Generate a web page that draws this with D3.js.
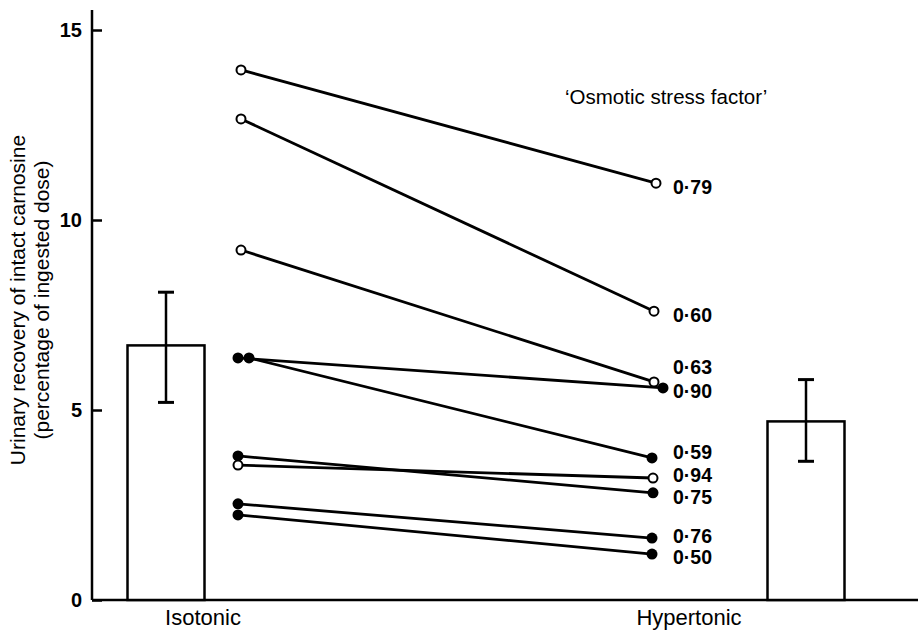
<!DOCTYPE html>
<html>
<head>
<meta charset="utf-8">
<script src="https://cdn.jsdelivr.net/npm/d3@7"></script>
<style>
  body { margin: 0; background: #fff; }
  text { font-family: "Liberation Sans", Arial, Helvetica, sans-serif; fill: #000; }
</style>
</head>
<body>
<svg width="918" height="630"></svg>
<script>
// data
var groups = ["Isotonic", "Hypertonic"];
var groupMeans = [6.7, 4.7];
var groupErrLow = [5.2, 3.65];
var groupErrHigh = [8.1, 5.8];

// individual subjects: isotonic -> hypertonic
var isoValues = [13.95, 12.66, 9.21, 6.37, 6.37, 3.79, 3.55, 2.53, 2.24];
var hyperValues = [10.97, 7.6, 5.74, 5.58, 3.74, 2.82, 3.21, 1.63, 1.21];
var openMarker = [true, true, true, false, false, false, true, false, false];
var stressFactor = ["0·79", "0·60", "0·63", "0·90", "0·59", "0·75", "0·94", "0·76", "0·50"];

var yTicks = [0, 5, 10, 15];

// layout
var svg = d3.select("svg");
var axisX = 92, baseY = 600;
var barCx = [166, 806], barW = 77;
var startX = [241, 241, 241, 238, 249, 238, 238, 238, 238];
var endX = [656, 654, 654, 663, 652, 653, 653, 652, 652];
var labelNudge = [4, 4, -15, 3, -6, 4, -3, -2, 3];
var catLabelX = [203, 689];

var yScale = d3.scaleLinear().domain([0, 15]).range([baseY, 30]);

// axes
svg.append("line")
    .attr("x1", axisX).attr("x2", axisX)
    .attr("y1", 10).attr("y2", baseY)
    .attr("stroke", "#000").attr("stroke-width", 2.5);
svg.append("line")
    .attr("x1", axisX).attr("x2", 918)
    .attr("y1", baseY).attr("y2", baseY)
    .attr("stroke", "#000").attr("stroke-width", 2.5);

var yAxis = d3.axisRight(yScale).tickValues(yTicks).tickSize(10).tickFormat(d3.format("d"));
var gY = svg.append("g")
    .attr("transform", "translate(" + axisX + ",0)")
    .call(yAxis);
gY.select(".domain").remove();
gY.selectAll(".tick line").attr("stroke", "#000").attr("stroke-width", 2.5);
gY.selectAll(".tick text")
    .attr("x", -10)
    .attr("text-anchor", "end")
    .attr("font-size", "20px")
    .attr("font-weight", "bold")
    .attr("font-family", "Liberation Sans, Arial, sans-serif");

// axis title
var title = svg.append("text")
    .attr("transform", "translate(25,300) rotate(-90)")
    .attr("text-anchor", "middle")
    .attr("font-size", "21px");
title.append("tspan").attr("x", 0).attr("dy", 0).text("Urinary recovery of intact carnosine");
title.append("tspan").attr("x", 0).attr("dy", 24).text("(percentage of ingested dose)");

// bars
groups.forEach(function (g, i) {
    svg.append("rect")
        .attr("x", barCx[i] - barW / 2)
        .attr("y", yScale(groupMeans[i]))
        .attr("width", barW)
        .attr("height", baseY - yScale(groupMeans[i]))
        .attr("fill", "#fff")
        .attr("stroke", "#000")
        .attr("stroke-width", 2.5);
    svg.append("line")
        .attr("x1", barCx[i]).attr("x2", barCx[i])
        .attr("y1", yScale(groupErrHigh[i])).attr("y2", yScale(groupErrLow[i]))
        .attr("stroke", "#000").attr("stroke-width", 2.5);
    [groupErrHigh[i], groupErrLow[i]].forEach(function (v) {
        svg.append("line")
            .attr("x1", barCx[i] - 8).attr("x2", barCx[i] + 8)
            .attr("y1", yScale(v)).attr("y2", yScale(v))
            .attr("stroke", "#000").attr("stroke-width", 3);
    });
    svg.append("text")
        .attr("x", catLabelX[i])
        .attr("y", 625)
        .attr("text-anchor", "middle")
        .attr("font-size", "22px")
        .text(g);
});

// subject lines
var subjects = isoValues.map(function (v, i) {
    return {iso: v, hyper: hyperValues[i], open: openMarker[i], label: stressFactor[i], i: i};
});

svg.selectAll("line.subj")
    .data(subjects)
    .enter()
    .append("line")
    .attr("class", "subj")
    .attr("x1", function (d) { return startX[d.i]; })
    .attr("y1", function (d) { return yScale(d.iso); })
    .attr("x2", function (d) { return endX[d.i]; })
    .attr("y2", function (d) { return yScale(d.hyper); })
    .attr("stroke", "#000")
    .attr("stroke-width", 2.8);

function drawMarkers(key, xs) {
    svg.selectAll("circle." + key)
        .data(subjects)
        .enter()
        .append("circle")
        .attr("class", key)
        .attr("cx", function (d) { return xs[d.i]; })
        .attr("cy", function (d) { return yScale(d[key]); })
        .attr("r", function (d) { return d.open ? 4.5 : 5.5; })
        .attr("fill", function (d) { return d.open ? "#fff" : "#000"; })
        .attr("stroke", "#000")
        .attr("stroke-width", function (d) { return d.open ? 2 : 0; });
}
drawMarkers("iso", startX);
drawMarkers("hyper", endX);

svg.selectAll("text.sf")
    .data(subjects)
    .enter()
    .append("text")
    .attr("class", "sf")
    .attr("x", 673)
    .attr("y", function (d) { return yScale(d.hyper) + labelNudge[d.i]; })
    .attr("dy", "0.35em")
    .attr("font-size", "19.5px")
    .attr("font-weight", "bold")
    .text(function (d) { return d.label; });

svg.append("text")
    .attr("x", 565)
    .attr("y", 104)
    .attr("font-size", "20.5px")
    .text("\u2018Osmotic stress factor\u2019");
</script>
</body>
</html>
